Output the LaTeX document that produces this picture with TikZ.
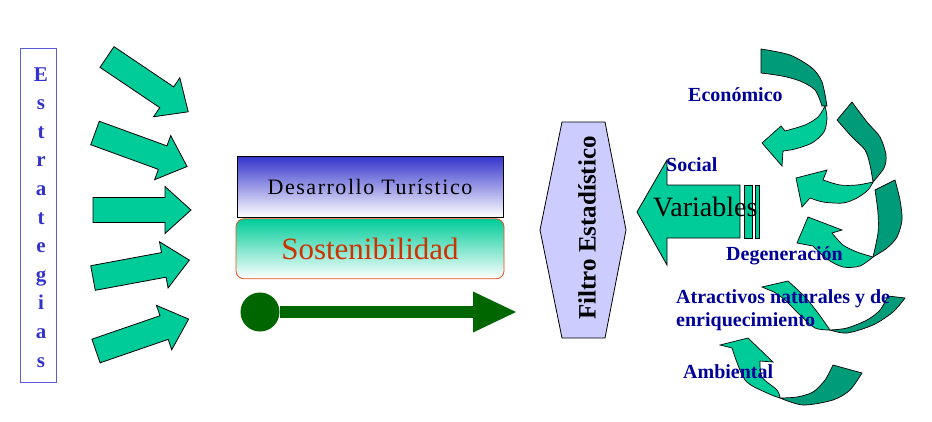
\documentclass[tikz,border=0pt]{standalone}
\usepackage{fontspec}
\setmainfont{Liberation Serif}
\usetikzlibrary{arrows.meta, positioning}
\definecolor{arrowgreen}{RGB}{0,204,153}
\definecolor{ribbondark}{RGB}{0,155,120}
\definecolor{labelblue}{RGB}{0,0,153}
\definecolor{letterblue}{RGB}{51,51,204}
\definecolor{boxblue}{RGB}{90,90,220}
\definecolor{devblue}{RGB}{51,51,204}
\definecolor{sostred}{RGB}{204,51,0}
\definecolor{sostborder}{RGB}{230,80,30}
\definecolor{linegreen}{RGB}{0,102,0}
\definecolor{filterlilac}{RGB}{204,204,255}

\begin{document}
\begin{tikzpicture}[x=1pt, y=-1pt,
		blockarrow/.style={fill=arrowgreen, draw=black, line width=0.8pt},
		ribbon back/.style={fill=ribbondark, draw=black, line width=0.7pt},
		ribbon front/.style={fill=arrowgreen, draw=black, line width=0.7pt},
		factor/.style={text=labelblue, font=\fontsize{20}{24}\selectfont\bfseries, inner sep=0pt, anchor=base west},
		letter/.style={text=letterblue, font=\fontsize{21}{21}\selectfont\bfseries, inner sep=0pt, anchor=base}
		]
		\useasboundingbox (0,0) rectangle (932,421);
		\fill[white] (0,0) rectangle (932,421);

		% strategies column
		\node (estrategias) at (38.5,215) [draw=boxblue, line width=1pt, minimum width=36, minimum height=334, inner sep=0pt] {};
		\foreach \ch [count=\i from 0] in {E,s,t,r,a,t,e,g,i,a,s}
			\node[letter] (letter \i) at (41, {81+28.6*\i}) {\ch};

		\foreach \tx/\ty/\ang in {107/57/-34, 95/133/-20, 93/210/0, 93/278/10.5, 96/351/19}
			\draw[blockarrow, shift={(\tx,\ty)}, rotate=\ang] (0,-12.5) -- (72,-12.5) -- (72,-23.5) -- (98,0) -- (72,23.5) -- (72,12.5) -- (0,12.5) -- cycle;

		% centre boxes
		\node (desarrollo) at (370,186.5) [draw=black, line width=0.8pt, top color=devblue, bottom color=white, minimum width=266, minimum height=61, font=\fontsize{22}{22}\selectfont\addfontfeatures{LetterSpace=7}] {Desarrollo Turístico};
		\node (sostenibilidad) [below=1pt of desarrollo, draw=sostborder, line width=0.8pt, rounded corners=8pt, top color=arrowgreen, bottom color=white, minimum width=268, minimum height=60, text=sostred, font=\fontsize{31}{31}\selectfont] {Sostenibilidad};

		\node (start dot) at (260,312) [circle, fill=linegreen, minimum size=39, inner sep=0pt] {};
		\coordinate (goal) at (516,312);
		\draw[linegreen, line width=12pt, -{Triangle[length=43pt, width=41pt, line width=0pt]}] (start dot) -- (goal);

		% filter
		\draw[fill=filterlilac, draw=black, line width=0.8pt] (562,122) -- (605,122) -- (626,230) -- (605,338) -- (562,338) -- (540,230) -- cycle;
		\node (filtro) at (587,228) [rotate=90, font=\fontsize{25}{25}\selectfont\bfseries] {Filtro Estadístico};

		% variables arrow
		\draw[blockarrow] (637,212) -- (667,160) -- (667,185) -- (740,185) -- (740,238) -- (667,238) -- (667,265) -- cycle;
		\draw[blockarrow] (744,185) rectangle (752,238);
		\draw[blockarrow] (755.5,185) rectangle (759.5,238);
		\node (variables) at (653,216) [anchor=base west, inner sep=0pt, font=\fontsize{28}{28}\selectfont] {Variables};

		% curved arrows
		\filldraw[ribbon back] plot[smooth] coordinates {(761,49) (790,55) (812,68) (822,82) (827,106)} -- plot[smooth] coordinates {(822,106) (815,90) (800,81) (782,76) (761,73)} -- cycle;
		\filldraw[ribbon front] plot[smooth] coordinates {(825,106) (827,118) (824,132) (812,143) (795,149) (783,151)} -- (782,166) -- (762,143) -- (781,126) -- (785,131) -- plot[smooth] coordinates {(785,131) (805,125) (818,117) (825,106)} -- cycle;

		\filldraw[ribbon back] plot[smooth] coordinates {(852,102) (867,122) (880,137) (886,155) (884,168) (873,182)} -- plot[smooth] coordinates {(873,182) (870,165) (865,150) (852,137) (837,120)} -- cycle;
		\filldraw[ribbon front] plot[smooth] coordinates {(873,182) (868,190) (857,198) (843,203) (823,202) (810,198)} -- (802,207) -- (796,178) -- (827,170) -- (823,180) -- plot[smooth] coordinates {(823,180) (840,185) (857,185) (873,182)} -- cycle;

		\filldraw[ribbon back] plot[smooth] coordinates {(895,180) (900,200) (902,220) (897,237) (887,248) (873,257)} -- plot[smooth] coordinates {(873,257) (878,233) (878,213) (875,190)} -- cycle;
		\filldraw[ribbon front] plot[smooth] coordinates {(873,257) (860,266) (843,267) (827,259) (813,246)} -- (797,243) -- (808,217) -- (842,230) -- (832,233) -- plot[smooth] coordinates {(832,233) (843,245) (857,252) (873,257)} -- cycle;

		\filldraw[ribbon front] (762,287) -- (788,281) -- plot[smooth] coordinates {(788,281) (805,297) (818,313) (830,330)} -- plot[smooth] coordinates {(830,330) (815,328) (800,315) (785,300) (774,292)} -- cycle;
		\filldraw[ribbon back] plot[smooth] coordinates {(830,330) (847,333) (873,325) (893,312) (905,298)} -- (888,296) -- plot[smooth] coordinates {(888,296) (880,310) (867,320) (847,328) (830,330)} -- cycle;

		\filldraw[ribbon front] (720,345) -- (748,338) -- (773,362) -- (760,361) -- plot[smooth] coordinates {(760,361) (762,377) (777,390) (780,398)} -- plot[smooth] coordinates {(780,398) (767,393) (745,380) (732,348)} -- cycle;
		\filldraw[ribbon back] plot[smooth] coordinates {(780,398) (803,405) (833,400) (850,390) (862,373)} -- (833,365) -- plot[smooth] coordinates {(833,365) (825,380) (813,392) (797,397) (780,398)} -- cycle;

		% factor labels
		\node[factor] (economico) at (688,101) {Económico};
		\node[factor] (social) at (666,171) {Social};
		\node[factor] (degeneracion) at (726,260) {Degeneración};
		\node[factor] (atractivos) at (676,303) {Atractivos naturales y de};
		\node[factor] (enriquecimiento) at (676,326) {enriquecimiento};
		\node[factor] (ambiental) at (683,378) {Ambiental};
	\end{tikzpicture}
\end{document}
